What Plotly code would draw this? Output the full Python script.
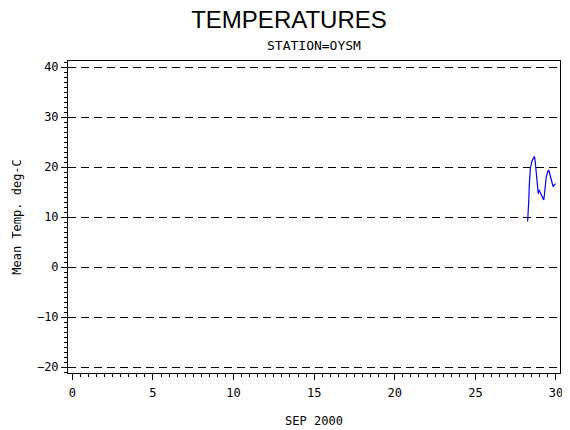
import plotly.graph_objects as go

# day of month (fractional) and mean temperature, station OYSM
days = [28.24, 28.29, 28.31, 28.35, 28.41, 28.50, 28.58, 28.66, 28.70, 28.76,
        28.83, 28.90, 28.95, 29.03, 29.12, 29.20, 29.24, 29.28, 29.34, 29.40,
        29.49, 29.55, 29.61, 29.70, 29.76, 29.82, 29.90, 29.97]
temps = [9.1, 11.1, 13.1, 16.7, 19.7, 21.1, 21.7, 22.1, 21.5, 19.4,
         16.7, 14.7, 15.4, 14.9, 14.2, 13.7, 13.4, 14.4, 16.1, 18.1,
         19.1, 19.4, 18.7, 17.7, 16.7, 16.1, 16.4, 16.7]

x_ticks = [0, 5, 10, 15, 20, 25, 30]
y_ticks = [-20, -10, 0, 10, 20, 30, 40]

mono = "DejaVu Sans Mono"

fig = go.Figure()
fig.add_trace(go.Scatter(x=days, y=temps, mode="lines",
                         line=dict(color="#0000ff", width=1.2)))

# page body adds an 8px margin, so the figure is a bit smaller than the window
fig.update_layout(
    width=562, height=422,
    margin=dict(l=60, r=10, t=53, b=57, autoexpand=False),
    paper_bgcolor="white", plot_bgcolor="white",
    showlegend=False,
    title=dict(text="TEMPERATURES", x=0.5, xanchor="center", y=0.972, yanchor="middle",
               font=dict(family="Liberation Sans Narrow, Liberation Sans, Arial", size=24, color="black")),
)
fig.add_annotation(text="STATION=OYSM", xref="paper", yref="paper", x=0.5, y=1,
                   yshift=16, xanchor="center", yanchor="middle", showarrow=False,
                   font=dict(family=mono, size=13, color="black"))

fig.update_xaxes(
    range=[-0.27, 30.25], tickvals=x_ticks, showgrid=False, zeroline=False, automargin=False,
    showline=True, linecolor="black", linewidth=1, mirror=True,
    ticks="outside", ticklen=6, tickcolor="black", ticklabelstandoff=3,
    minor=dict(dtick=0.5, ticks="outside", ticklen=3, tickcolor="black", showgrid=False),
    tickfont=dict(family=mono, size=12, color="black"),
    title=dict(text="SEP 2000", font=dict(family=mono, size=12, color="black"), standoff=17),
)
fig.update_yaxes(
    range=[-21.2, 41.2], tickvals=y_ticks, zeroline=False, automargin=False,
    showgrid=True, gridcolor="black", gridwidth=1, griddash="8px,5px",
    showline=True, linecolor="black", linewidth=1, mirror=True,
    ticks="outside", ticklen=6, tickcolor="black",
    minor=dict(dtick=1, ticks="outside", ticklen=3, tickcolor="black", showgrid=False),
    tickfont=dict(family=mono, size=12, color="black"),
    title=dict(text="Mean Temp. deg-C", font=dict(family=mono, size=12, color="black"), standoff=12),
)

fig.write_html("out.html")
